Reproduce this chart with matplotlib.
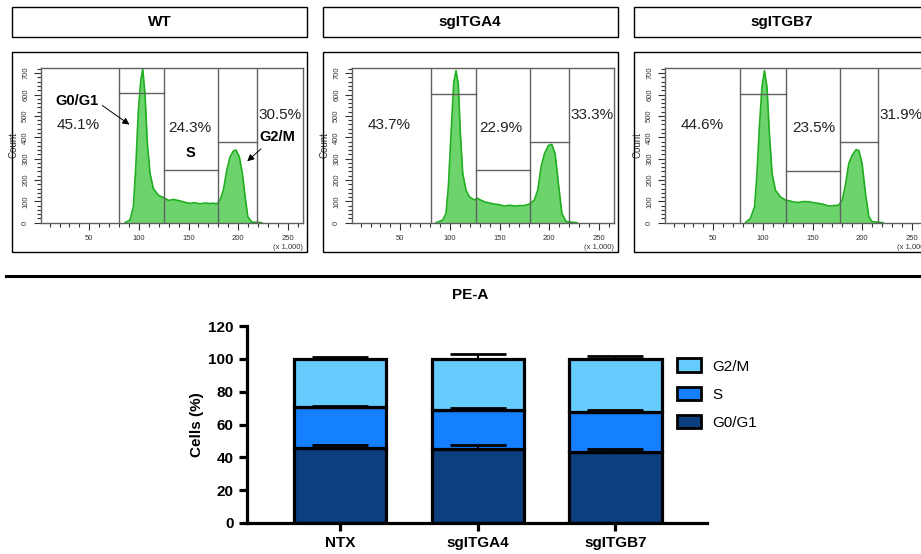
import matplotlib
matplotlib.use('Agg')
import matplotlib.pyplot as plt
from matplotlib.patches import Rectangle
from matplotlib.ticker import MultipleLocator

plt.rcParams['font.family'] = ['Liberation Sans', 'DejaVu Sans']

# ---- histogram data (PE-A in x1000, counts) ----
panels = ['WT', 'sgITGA4', 'sgITGB7']

wt_x = [86, 91, 94.4, 96.8, 99.4, 101.8, 103.8, 106.1, 108.5, 111.2, 114.5, 119.5, 126.3,
        130, 134.7, 141.4, 146, 151.5, 156, 161.6, 166, 171.7, 175, 178.4, 181.7, 185.1,
        188.5, 191.8, 195.2, 197.8, 201.2, 204.2, 207, 209.7, 213.7, 223.8]
wt_y = [0, 13, 75, 261, 525, 665, 720, 603, 370, 230, 160, 129, 114,
        104, 109, 102, 96, 90, 94, 88, 92, 90, 91, 88, 106, 152,
        246, 308, 336, 340, 308, 230, 121, 28, 3, 0]

a4_x = [86, 92.7, 96, 98.4, 101.1, 103.8, 106.1, 108.4, 110.5, 112.9, 116.2, 119.6, 124.6,
        127.5, 129.6, 134.7, 140, 144.8, 150, 154.8, 160, 164.9, 170, 175, 180, 185,
        188.5, 191.8, 195.2, 199.2, 202.6, 206, 209.3, 212.8, 217, 228]
a4_y = [0, 12, 43, 168, 416, 655, 712, 650, 416, 230, 152, 121, 106,
        115, 109, 98, 92, 87, 84, 78, 82, 78, 80, 80, 87, 106,
        152, 261, 323, 362, 367, 323, 183, 43, 5, 0]

b7_x = [82.3, 87.3, 91.6, 94, 96.4, 99, 101.5, 104.1, 106.5, 109.2, 112.6, 117.6, 122.7,
        127.7, 132, 136.1, 141, 146.2, 151, 156.3, 161, 166.3, 171, 176.4, 179.8, 183.1,
        186.5, 189.8, 193.8, 196.6, 199.9, 203.3, 206.7, 210, 221]
b7_y = [0, 20, 75, 230, 448, 634, 712, 634, 416, 230, 152, 121, 106,
        101, 96, 95, 99, 98, 94, 90, 86, 78, 80, 82, 106, 176,
        277, 315, 342, 338, 277, 137, 28, 5, 0]

hist_x = [wt_x, a4_x, b7_x]
hist_y = [wt_y, a4_y, b7_y]

# gate boundaries and gate heights (G0/G1, S, G2/M)
gate_x = [[80, 125.3, 179.7, 218.8], [80.5, 126.3, 180.4, 219.7], [76.9, 123.3, 177.4, 216.3]]
gate_h = [[606, 246, 380], [603, 246, 380], [603, 244, 380]]
gate_pct = [['45.1%', '24.3%', '30.5%'], ['43.7%', '22.9%', '33.3%'], ['44.6%', '23.5%', '31.9%']]

# ---- bar chart data ----
groups = ['NTX', 'sgITGA4', 'sgITGB7']
phases = ['G0/G1', 'S', 'G2/M']
g0g1 = [45.9, 45.1, 43.4]
s_phase = [24.9, 23.5, 24.0]
g2m = [29.2, 31.4, 32.6]
g0g1_err = [1.5, 2.4, 1.8]
s_err = [0.5, 1.2, 1.2]
g2m_err = [1.0, 2.7, 1.8]
bar_colors = ['#0b3f7e', '#1580fe', '#66cbfd']

W, H = 921, 554
fig = plt.figure(figsize=(W / 100, H / 100), dpi=100)


def rect(px0, py0, px1, py1, lw=1.0):
    fig.add_artist(Rectangle((px0 / W, 1 - py1 / H), (px1 - px0) / W, (py1 - py0) / H,
                             transform=fig.transFigure, fill=False, edgecolor='black',
                             linewidth=lw))


panel_dx = [0, 311, 624]
box_dx = [0, 310.5, 622]
green_fill = '#6dd46d'
green_line = '#1fae1f'
gate_col = '#606060'

for i, name in enumerate(panels):
    bx = box_dx[i]
    rect(12 + bx, 7, 307 + bx, 37)
    fig.text((159.5 + bx) / W, 1 - 22 / H, name, ha='center', va='center',
             fontsize=11, fontweight='bold')
    rect(12 + bx, 52, 307 + bx, 252)

    dx = panel_dx[i]
    ax = fig.add_axes([(41 + dx) / W, 1 - 222.7 / H, 261.7 / W, 154.4 / H])
    ax.fill_between(hist_x[i], hist_y[i], 0, color=green_fill, linewidth=0)
    ax.plot(hist_x[i], hist_y[i], color=green_line, linewidth=1.2)
    ax.set_xlim(1.3, 265)
    ax.set_ylim(0, 723)

    gx = gate_x[i]
    gh = gate_h[i]
    for v in gx:
        ax.axvline(v, color=gate_col, linewidth=1.0)
    for k in range(3):
        ax.plot([gx[k], gx[k + 1]], [gh[k], gh[k]], color=gate_col, linewidth=1.0)

    for sp in ax.spines.values():
        sp.set_color(gate_col)
        sp.set_linewidth(1.0)
    ax.xaxis.set_major_locator(MultipleLocator(50))
    ax.xaxis.set_minor_locator(MultipleLocator(10))
    ax.yaxis.set_major_locator(MultipleLocator(100))
    ax.yaxis.set_minor_locator(MultipleLocator(20))
    ax.tick_params(which='both', direction='out', colors='#333333', labelsize=5.5, width=0.8)
    ax.tick_params(which='major', length=5)
    ax.tick_params(which='minor', length=3)
    ax.set_xticks([50, 100, 150, 200, 250])
    for lab in ax.get_yticklabels():
        lab.set_rotation(90)
        lab.set_va('center')
    ax.set_ylabel('Count', fontsize=7, labelpad=3, color='#333333')
    ax.text(1.0, -0.135, '(x 1,000)', transform=ax.transAxes, ha='right', va='top',
            fontsize=5.5, color='#333333')

    pct = gate_pct[i]
    ax.text(39, 456, pct[0], ha='center', va='center', fontsize=11, color='#222222')
    ax.text(151.5, 442, pct[1], ha='center', va='center', fontsize=11, color='#222222')
    ax.text(gx[3] + 1.5, 505, pct[2], ha='left', va='center', fontsize=11, color='#222222')

    if i == 0:
        ax.text(38, 572, 'G0/G1', ha='center', va='center', fontsize=10.5, fontweight='bold')
        ax.text(151.5, 326, 'S', ha='center', va='center', fontsize=10.5, fontweight='bold')
        ax.text(239, 399, 'G2/M', ha='center', va='center', fontsize=10.5, fontweight='bold')
        ax.annotate('', xy=(92.7, 452), xytext=(60.8, 556),
                    arrowprops=dict(arrowstyle='-|>', color='black', lw=0.7,
                                    mutation_scale=10))
        ax.annotate('', xy=(207, 279), xytext=(225, 354),
                    arrowprops=dict(arrowstyle='-|>', color='black', lw=0.7,
                                    mutation_scale=10))

# separator line and section title
fig.add_artist(plt.Line2D([6 / W, 1.0], [1 - 276 / H, 1 - 276 / H], transform=fig.transFigure,
                          color='black', linewidth=2.2))
fig.text(470 / W, 1 - 295 / H, 'PE-A', ha='center', va='center', fontsize=11, fontweight='bold')

# ---- stacked bar chart ----
bx = fig.add_axes([247 / W, 1 - 523 / H, 460 / W, 197 / H])
xpos = list(range(len(groups)))
bw = 0.67
lw = 2.3
seg_vals = [g0g1, s_phase, g2m]
seg_errs = [g0g1_err, s_err, g2m_err]
bottoms = [0.0, 0.0, 0.0]
handles = []
for k in range(3):
    tops = [bottoms[j] + seg_vals[k][j] for j in range(3)]
    h = bx.bar(xpos, seg_vals[k], bw, bottom=bottoms, color=bar_colors[k],
               edgecolor='black', linewidth=lw, zorder=2)
    bx.errorbar(xpos, tops, yerr=[[0, 0, 0], seg_errs[k]], fmt='none', ecolor='black',
                elinewidth=1.5, capsize=20, capthick=2.0, zorder=3)
    handles.append(h)
    bottoms = tops

bx.set_xlim(-0.675, 2.665)
bx.set_ylim(0, 120)
bx.set_yticks(range(0, 121, 20))
bx.set_xticks(xpos)
bx.set_xticklabels(groups)
for lab in bx.get_xticklabels() + bx.get_yticklabels():
    lab.set_fontweight('bold')
bx.tick_params(axis='both', labelsize=11, width=lw, length=6, direction='out')
bx.spines['top'].set_visible(False)
bx.spines['right'].set_visible(False)
bx.spines['left'].set_linewidth(lw)
bx.spines['bottom'].set_linewidth(lw)
bx.set_ylabel('Cells (%)', fontsize=11, fontweight='bold', labelpad=3)

leg = bx.legend(handles[::-1], phases[::-1], loc='upper left', bbox_to_anchor=(0.905, 0.905),
                frameon=False, fontsize=11, handlelength=1.6, handleheight=1.0,
                labelspacing=0.85, handletextpad=0.7)
for p in leg.get_patches():
    p.set_linewidth(2.0)

fig.savefig('out.png', dpi=100)
